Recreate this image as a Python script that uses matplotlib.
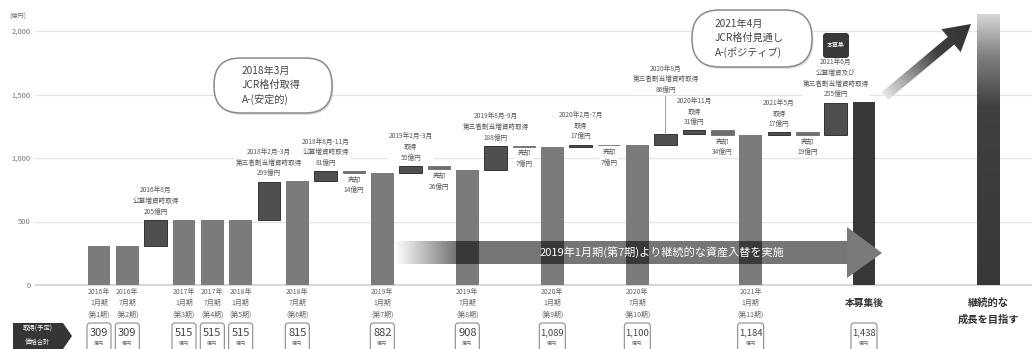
import numpy as np
import matplotlib
matplotlib.use("Agg")
import matplotlib.pyplot as plt
from matplotlib.patches import FancyBboxPatch, Polygon, Rectangle
from matplotlib import transforms

plt.rcParams["font.family"] = ["Noto Sans CJK JP", "DejaVu Sans"]

# ---------------- data ----------------
step_kinds = ["period", "period", "acq", "period", "period", "period", "acq", "period",
              "acq", "sale", "period", "acq", "sale", "period", "acq", "sale", "period",
              "acq", "sale", "period", "acq", "acq", "sale", "period", "acq", "sale",
              "acq", "total"]
step_values = [309, 309, 205, 515, 515, 515, 299, 815, 81, 14, 882, 55, 26, 908, 188, 7,
               1089, 17, 7, 1100, 86, 31, 34, 1184, 17, 19, 255, 1438]
step_notes = [None, None, "2016年8月\n公募増資時取得", None, None, None,
              "2018年2月-3月\n第三者割当増資時取得", None,
              "2018年8月-11月\n公募増資時取得", "売却", None,
              "2019年2月-3月\n取得", "売却", None,
              "2019年8月-9月\n第三者割当増資時取得", "売却", None,
              "2020年2月-7月\n取得", "売却", None,
              "2020年8月\n第三者割当増資時取得", "2020年11月\n取得", "売却", None,
              "2021年5月\n取得", "売却",
              "2021年6月\n公募増資及び\n第三者割当増資時取得", None]
period_labels = ["2016年\n1月期\n(第1期)", "2016年\n7月期\n(第2期)",
                 "2017年\n1月期\n(第3期)", "2017年\n7月期\n(第4期)",
                 "2018年\n1月期\n(第5期)", "2018年\n7月期\n(第6期)",
                 "2019年\n1月期\n(第7期)", "2019年\n7月期\n(第8期)",
                 "2020年\n1月期\n(第9期)", "2020年\n7月期\n(第10期)",
                 "2021年\n1月期\n(第11期)"]
total_label = "本募集後"
goal_label = "継続的な\n成長を目指す"
goal_height = 2130
y_ticks = [0, 500, 1000, 1500, 2000]
y_tick_labels = ["0", "500", "1,000", "1,500", "2,000"]
unit_label = "(億円)"
rating_2018 = "2018年3月\nJCR格付取得\nA-(安定的)"
rating_2021 = "2021年4月\nJCR格付見通し\nA-(ポジティブ)"
rotation_text = "2019年1月期(第7期)より継続的な資産入替を実施"
row_header = ["取得(予定)", "価格合計"]

# ---------------- figure ----------------
W, H = 1032, 349
fig = plt.figure(figsize=(W / 100, H / 100), dpi=100)
fig.patch.set_facecolor("white")

ax = fig.add_axes([35 / W, 0, (W - 35) / W, 1])
slot = 28.333
ax.set_xlim((35 - 99) / slot, (W - 99) / slot)
ax.set_ylim(-(H - 285) / 0.127, 285 / 0.127)
for s in ax.spines.values():
    s.set_visible(False)
ax.set_xticks([])
ax.set_yticks(y_ticks)
ax.set_yticklabels(y_tick_labels, fontsize=5.5, color="#777777")
ax.tick_params(axis="y", length=0, pad=3)
ax.set_axisbelow(True)
for t in y_ticks:
    ax.axhline(t, color="#d2d2d2" if t == 0 else "#e4e4e4",
               lw=1.3 if t == 0 else 0.9, zorder=0.5)

ov = fig.add_axes([0, 0, 1, 1], zorder=5)
ov.set_xlim(0, W)
ov.set_ylim(H, 0)
ov.axis("off")
ov.patch.set_alpha(0)


def px_of(x, y=0.0):
    X, Y = ax.transData.transform((x, y))
    return X, H - Y


xlab = transforms.blended_transform_factory(ax.transData, ov.transData)

# ---------------- waterfall bars ----------------
bar_w = 0.8
level = 0
note_kw = dict(ha="center", fontsize=4.8, color="#5a5a5a", linespacing=1.45,
               textcoords="offset points", zorder=4,
               bbox=dict(boxstyle="square,pad=0.15", fc="white", ec="none"))
box_items = []
p_idx = 0
for i, (kind, v) in enumerate(zip(step_kinds, step_values)):
    if kind == "period":
        ax.bar(i, v, bar_w, bottom=0, color="#7b7b7b", zorder=2)
        level = v
        ax.text(i, 288, period_labels[p_idx], transform=xlab, ha="center", va="top",
                fontsize=5, color="#666666", linespacing=1.55)
        p_idx += 1
        box_items.append((i, v))
    elif kind == "total":
        ax.bar(i, v, bar_w, bottom=0, color="#383838", zorder=2)
        ax.text(i, 303, total_label, transform=xlab, ha="center", va="center",
                fontsize=7, color="#333333", fontweight="bold")
        box_items.append((i, v))
    elif kind == "acq":
        ax.bar(i, v, bar_w, bottom=level, color="#4f4f4f", edgecolor="#333333",
               lw=0.7, zorder=2)
        top = level + v
        text = f"{step_notes[i]}\n{v}億円"
        if i == 20:
            ax.annotate(text, xy=(i, top), xytext=(0, 29), va="bottom",
                        arrowprops=dict(arrowstyle="-", color="#888888", lw=0.6,
                                        shrinkA=1, shrinkB=0), **note_kw)
        else:
            ax.annotate(text, xy=(i, top), xytext=(0, 3), va="bottom", **note_kw)
        level = top
    elif kind == "sale":
        ax.bar(i, v, bar_w, bottom=level - v, color="#6e6e6e", edgecolor="#6e6e6e",
               lw=0.6, zorder=2)
        ax.annotate(f"{step_notes[i]}\n{v}億円", xy=(i, level - v), xytext=(0, -2),
                    va="top", **note_kw)
        level -= v

# goal bar with vertical gradient
goal_x = len(step_kinds) - 1 + 4.38
vals = np.linspace(0, goal_height, 400)
g = np.interp(vals, [0, 1400, 1800, goal_height], [0.22, 0.25, 0.5, 0.84])
img = np.dstack([g, g, g])[:, None, :].reshape(len(vals), 1, 3)
gim = ax.imshow(img, extent=(goal_x - bar_w / 2, goal_x + bar_w / 2, 0, goal_height),
                origin="lower", aspect="auto", interpolation="bilinear", zorder=2)
grect = Rectangle((goal_x - bar_w / 2, 0), bar_w, goal_height, fc="none", ec="none")
ax.add_patch(grect)
gim.set_clip_path(grect)
ax.text(goal_x, 311, goal_label, transform=xlab, ha="center", va="center",
        fontsize=7.4, color="#333333", fontweight="bold", linespacing=1.75)
ax.set_xlim((35 - 99) / slot, (W - 99) / slot)
ax.set_ylim(-(H - 285) / 0.127, 285 / 0.127)

# ---------------- value boxes along the bottom ----------------
for i, v in box_items:
    cx, _ = px_of(i)
    s = f"{v:,}"
    bw = 24 if len(s) <= 3 else 26
    ov.add_patch(FancyBboxPatch((cx - bw / 2, 323), bw, 30,
                                boxstyle="round,pad=0,rounding_size=3",
                                fc="white", ec="#8c8c8c", lw=0.8))
    ov.text(cx, 332.5, s, ha="center", va="center", color="#444444",
            fontsize=8 if len(s) <= 3 else 6.8)
    ov.text(cx, 343.5, "億円", ha="center", va="center", color="#666666", fontsize=3.6)

# row header
ov.add_patch(Polygon([(13, 323), (63, 323), (72, 336), (63, 349), (13, 349)],
                     closed=True, fc="#353535", ec="none"))
ov.text(38, 329, row_header[0], ha="center", va="center", color="white", fontsize=4.6)
ov.text(38, 342, row_header[1], ha="center", va="center", color="white", fontsize=4.6)

ov.text(18, 17, unit_label, ha="center", va="center", color="#777777", fontsize=4.5)

# ---------------- rating bubbles ----------------
def bubble(x, y, w, h, text, tx):
    ov.add_patch(FancyBboxPatch((x + 1.5, y + 2), w, h,
                                boxstyle=f"round,pad=0,rounding_size={h / 2 - 1}",
                                fc="#bdbdbd", ec="none", alpha=0.45))
    ov.add_patch(FancyBboxPatch((x, y), w, h,
                                boxstyle=f"round,pad=0,rounding_size={h / 2 - 1}",
                                fc="white", ec="#8a8a8a", lw=1.1))
    ov.text(tx, y + h / 2, text, ha="left", va="center", fontsize=7.3,
            color="#444444", linespacing=1.45)


bubble(214, 58, 118, 55, rating_2018, 242)
bubble(692, 10, 120, 57, rating_2021, 715)

# "本募集" tag
ov.add_patch(FancyBboxPatch((823, 33), 26, 25, boxstyle="round,pad=0,rounding_size=3",
                            fc="#383838", ec="none"))
ov.text(836, 45.5, "本募集", ha="center", va="center", color="white", fontsize=4.3)

# ---------------- asset rotation arrow ----------------
x0, x1 = 395, 847
ramp = np.linspace(0, 1, x1 - x0)
alpha = np.clip((np.arange(x1 - x0) + 0.5) / 60.0, 0, 1) * 0.54
rgba = np.zeros((1, x1 - x0, 4))
rgba[0, :, 3] = alpha
ov.imshow(rgba, extent=(x0, x1, 264, 241), origin="upper", aspect="auto",
          interpolation="bilinear", zorder=6)
ov.add_patch(Polygon([(847, 227), (882, 253), (847, 278)], closed=True,
                     fc="#7a7a7a", ec="none", zorder=6))
ov.text(662, 252.5, rotation_text, ha="center", va="center", color="white",
        fontsize=8, zorder=7)

# ---------------- growth arrow ----------------
T = np.array([885.0, 96.0])
P = np.array([971.0, 24.0])
d = P - T
L = np.hypot(*d)
u = d / L
n = np.array([-u[1], u[0]])
shaft_w, head_w, head_l = 10, 30, 26
H0 = P - u * head_l
pts = np.array([T + n * shaft_w / 2, H0 + n * shaft_w / 2, H0 + n * head_w / 2, P,
                H0 - n * head_w / 2, H0 - n * shaft_w / 2, T - n * shaft_w / 2])
arrow = Polygon(pts, closed=True, fc="none", ec="none")
ov.add_patch(arrow)
bx0, by0 = np.floor(pts.min(axis=0)) - 2
bx1, by1 = np.ceil(pts.max(axis=0)) + 2
XX, YY = np.meshgrid(np.arange(bx0, bx1) + 0.5, np.arange(by0, by1) + 0.5)
tt = ((XX - T[0]) * u[0] + (YY - T[1]) * u[1]) / L
gg = np.interp(tt, [0, 0.6, 1], [0.9, 0.25, 0.2])
aim = ov.imshow(np.dstack([gg, gg, gg]), extent=(bx0, bx1, by1, by0), origin="upper",
                aspect="auto", interpolation="bilinear", zorder=6)
aim.set_clip_path(arrow)
ov.set_xlim(0, W)
ov.set_ylim(H, 0)

fig.savefig("out.png", dpi=100, facecolor="white")
